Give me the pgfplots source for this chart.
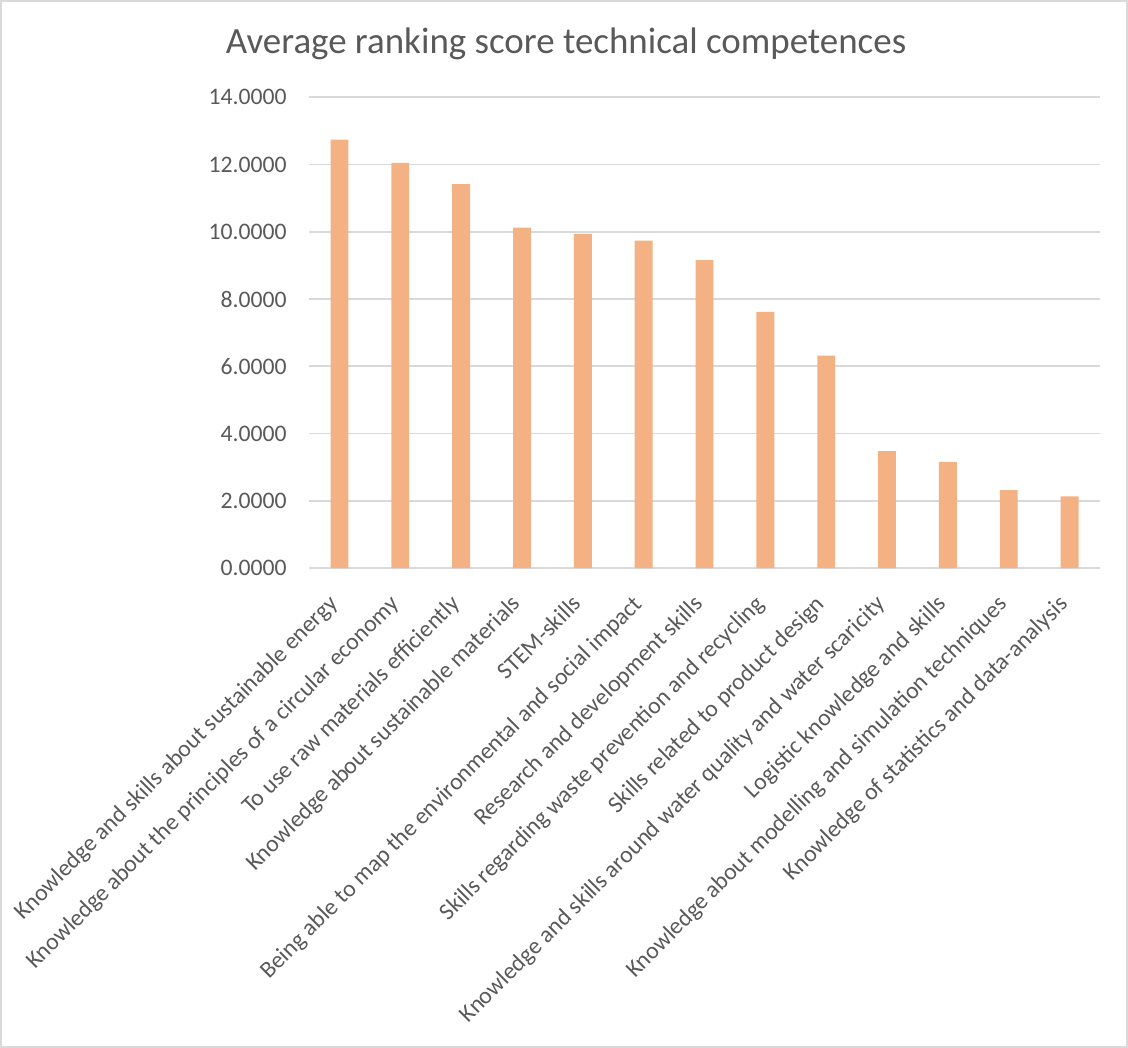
\documentclass[border=0pt]{standalone}
\usepackage{pgfplots}
\pgfplotsset{compat=1.18}
\usetikzlibrary{calc}
\usepackage{fontspec}
\setmainfont{Carlito}
\definecolor{barc}{RGB}{244,177,131}
\definecolor{gridc}{RGB}{217,217,217}
\definecolor{txt}{RGB}{89,89,89}
\begin{document}
\begin{tikzpicture}
\begin{axis}[
  name=ax,
  scale only axis,
  width=394pt, height=234.5pt,
  xmin=-0.5, xmax=12.5,
  ymin=0, ymax=14,
  ytick={0,2,...,14},
  xtick={0,...,12},
  xticklabels={
    Knowledge and skills about sustainable energy,
    Knowledge about the principles of a circular economy,
    To use raw materials efficiently,
    Knowledge about sustainable materials,
    STEM-skills,
    Being able to map the environmental and social impact,
    Research and development skills,
    Skills regarding waste prevention and recycling,
    Skills related to product design,
    Knowledge and skills around water quality and water scaricity,
    Logistic knowledge and skills,
    Knowledge about modelling and simulation techniques,
    Knowledge of statistics and data-analysis},
  xticklabel style={xshift=-6pt, yshift=-12.5pt, rotate=45, anchor=north east, font=\fontsize{11.8}{13}\selectfont, text=txt, inner sep=0pt},
  yticklabel style={font=\fontsize{11.8}{13}\selectfont, text=txt, inner sep=0pt, xshift=-11pt},
  /pgf/number format/assume math mode=true,
  yticklabel={\pgfmathprintnumber[fixed, fixed zerofill, precision=4]{\tick}},
  major tick length=0pt,
  axis line style={draw=none},
  ymajorgrids, grid style={gridc, line width=0.9pt},
  ybar, bar width=8.9pt,
]
\addplot[fill=barc, draw=none] coordinates {
  (0,12.74) (1,12.05) (2,11.42) (3,10.12) (4,9.94) (5,9.74) (6,9.16)
  (7,7.62) (8,6.32) (9,3.48) (10,3.16) (11,2.32) (12,2.13)};
\end{axis}
\draw[gridc, line width=0.9pt] ($(ax.south west)+(-153.5pt,-238.5pt)$) rectangle ($(ax.south west)+(407.5pt,282.5pt)$);
\node[text=txt, font=\fontsize{18.4}{21}\selectfont, anchor=base, inner sep=0pt] at ($(ax.south west)+(128pt,256.5pt)$) {Average ranking score technical competences};
\end{tikzpicture}
\end{document}
